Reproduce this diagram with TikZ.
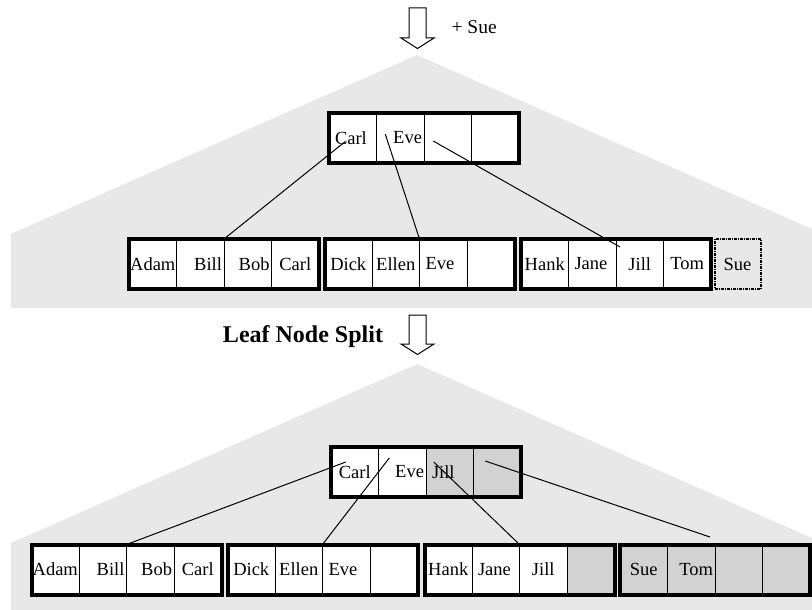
\documentclass[tikz,border=0pt]{standalone}
\usepackage{fontspec}
\setmainfont{Liberation Serif}
\usetikzlibrary{positioning}

\definecolor{treegray}{RGB}{232,232,232}
\definecolor{newgray}{RGB}{210,210,210}
\definecolor{suegray}{RGB}{232,232,232}

\tikzstyle{cell}=[draw,fill=white,line width=1pt,outer sep=0pt,minimum width=47.5pt,minimum height=50pt,inner xsep=0pt,inner ysep=0pt,text width=47.5pt,align=center,font=\fontsize{18.5}{20}\selectfont,anchor=west]
\tikzstyle{lcell}=[cell,inner xsep=6pt,text width=35.5pt,align=left]
\tikzstyle{rcell}=[cell,inner xsep=2pt,text width=43.5pt,align=right]
\tikzstyle{newcell}=[fill=newgray]
\tikzstyle{suecell}=[cell,fill=suegray,line width=2pt,dash pattern=on 3pt off 1pt on 1pt off 1pt,minimum width=46pt,text width=46pt]
\tikzstyle{box}=[line width=4pt]
\tikzstyle{link}=[line width=1pt]
\tikzstyle{hollow}=[draw,fill=white,line width=1pt]

\begin{document}
\begin{tikzpicture}[x=1pt,y=-1pt]
\useasboundingbox (0,0) rectangle (812,610);

% background trees
\fill[treegray] (417,55) -- (11,234) -- (11,308) -- (812,308) -- (812,229) -- cycle;
\fill[treegray] (417,364) -- (11,543) -- (11,610) -- (812,610) -- (812,538) -- cycle;

% insert arrow
\draw[hollow] (409,8) -- ++(17,0) -- ++(0,30) -- ++(8,0) -- ++(-16.5,10.5) -- ++(-16.5,-10.5) -- ++(8,0) -- cycle;
\node[anchor=west,font=\fontsize{19.5}{21}\selectfont] (add) at (448,27) {+ Sue};

% 1st tree: index
\node[lcell] (i1a) at (329,138) {Carl};
\node[rcell,right=0pt of i1a] (i1b) {Eve};
\node[cell,right=0pt of i1b] (i1c) {};
\node[cell,right=0pt of i1c] (i1d) {};
\draw[box] (i1a.north west) rectangle (i1d.south east);

% 1st tree: leaves
\node[cell] (t1a) at (129,264) {Adam};
\node[rcell,right=0pt of t1a] (t1b) {Bill};
\node[rcell,right=0pt of t1b] (t1c) {Bob};
\node[cell,right=0pt of t1c] (t1d) {Carl};
\draw[box] (t1a.north west) rectangle (t1d.south east);

\node[cell] (t2a) at (324.5,264) {Dick};
\node[cell,right=0pt of t2a] (t2b) {Ellen};
\node[lcell,right=0pt of t2b] (t2c) {Eve};
\node[cell,right=0pt of t2c] (t2d) {};
\draw[box] (t2a.north west) rectangle (t2d.south east);

\node[cell] (t3a) at (521,264) {Hank};
\node[lcell,right=0pt of t3a] (t3b) {Jane};
\node[cell,right=0pt of t3b] (t3c) {Jill};
\node[cell,right=0pt of t3c] (t3d) {Tom};
\draw[box] (t3a.north west) rectangle (t3d.south east);

\node[suecell] (sue) at (714.5,264) {Sue};

\draw[link] ([shift={(-7.5,3.5)}]i1a.center) -- (t1b.north east);
\draw[link] ([shift={(-15,-4)}]i1b.center) -- (t2b.north east);
\draw[link] ([shift={(-14.5,3)}]i1c.center) -- ([shift={(4,8)}]t3c.north west);

% split arrow
\node[font=\bfseries\fontsize{24}{26}\selectfont] (split) at (303,337) {Leaf Node Split};
\draw[hollow] (409,315) -- ++(17,0) -- ++(0,29) -- ++(8,0) -- ++(-16.5,10.5) -- ++(-16.5,-10.5) -- ++(8,0) -- cycle;

% 2nd tree: index
\node[cell] (i2a) at (331,472) {Carl};
\node[rcell,right=0pt of i2a] (i2b) {Eve};
\node[lcell,newcell,right=0pt of i2b] (i2c) {Jill};
\node[cell,newcell,right=0pt of i2c] (i2d) {};
\draw[box] (i2a.north west) rectangle (i2d.south east);

% 2nd tree: leaves
\node[cell] (b1a) at (31.5,569.5) {Adam};
\node[rcell,right=0pt of b1a] (b1b) {Bill};
\node[rcell,right=0pt of b1b] (b1c) {Bob};
\node[cell,right=0pt of b1c] (b1d) {Carl};
\draw[box] (b1a.north west) rectangle (b1d.south east);

\node[cell] (b2a) at (227.5,569.5) {Dick};
\node[cell,right=0pt of b2a] (b2b) {Ellen};
\node[lcell,right=0pt of b2b] (b2c) {Eve};
\node[cell,right=0pt of b2c] (b2d) {};
\draw[box] (b2a.north west) rectangle (b2d.south east);

\node[cell] (b3a) at (424.5,569.5) {Hank};
\node[lcell,right=0pt of b3a] (b3b) {Jane};
\node[cell,right=0pt of b3b] (b3c) {Jill};
\node[cell,newcell,right=0pt of b3c] (b3d) {};
\draw[box] (b3a.north west) rectangle (b3d.south east);

\node[cell,newcell] (b4a) at (620,569.5) {Sue};
\node[rcell,newcell,right=0pt of b4a] (b4b) {Tom};
\node[cell,newcell,right=0pt of b4b] (b4c) {};
\node[cell,newcell,right=0pt of b4c] (b4d) {};
\draw[box] (b4a.north west) rectangle (b4d.south east);

\draw[link] ([shift={(-9,-10)}]i2a.center) -- (b1b.north east);
\draw[link] ([shift={(-13,-14)}]i2b.center) -- (b2b.north east);
\draw[link] ([shift={(-16,-10)}]i2c.center) -- (b3b.north east);
\draw[link] ([shift={(-12,-11)}]i2d.center) -- ([shift={(-5,-7.5)}]b4c.north west);

\end{tikzpicture}
\end{document}
